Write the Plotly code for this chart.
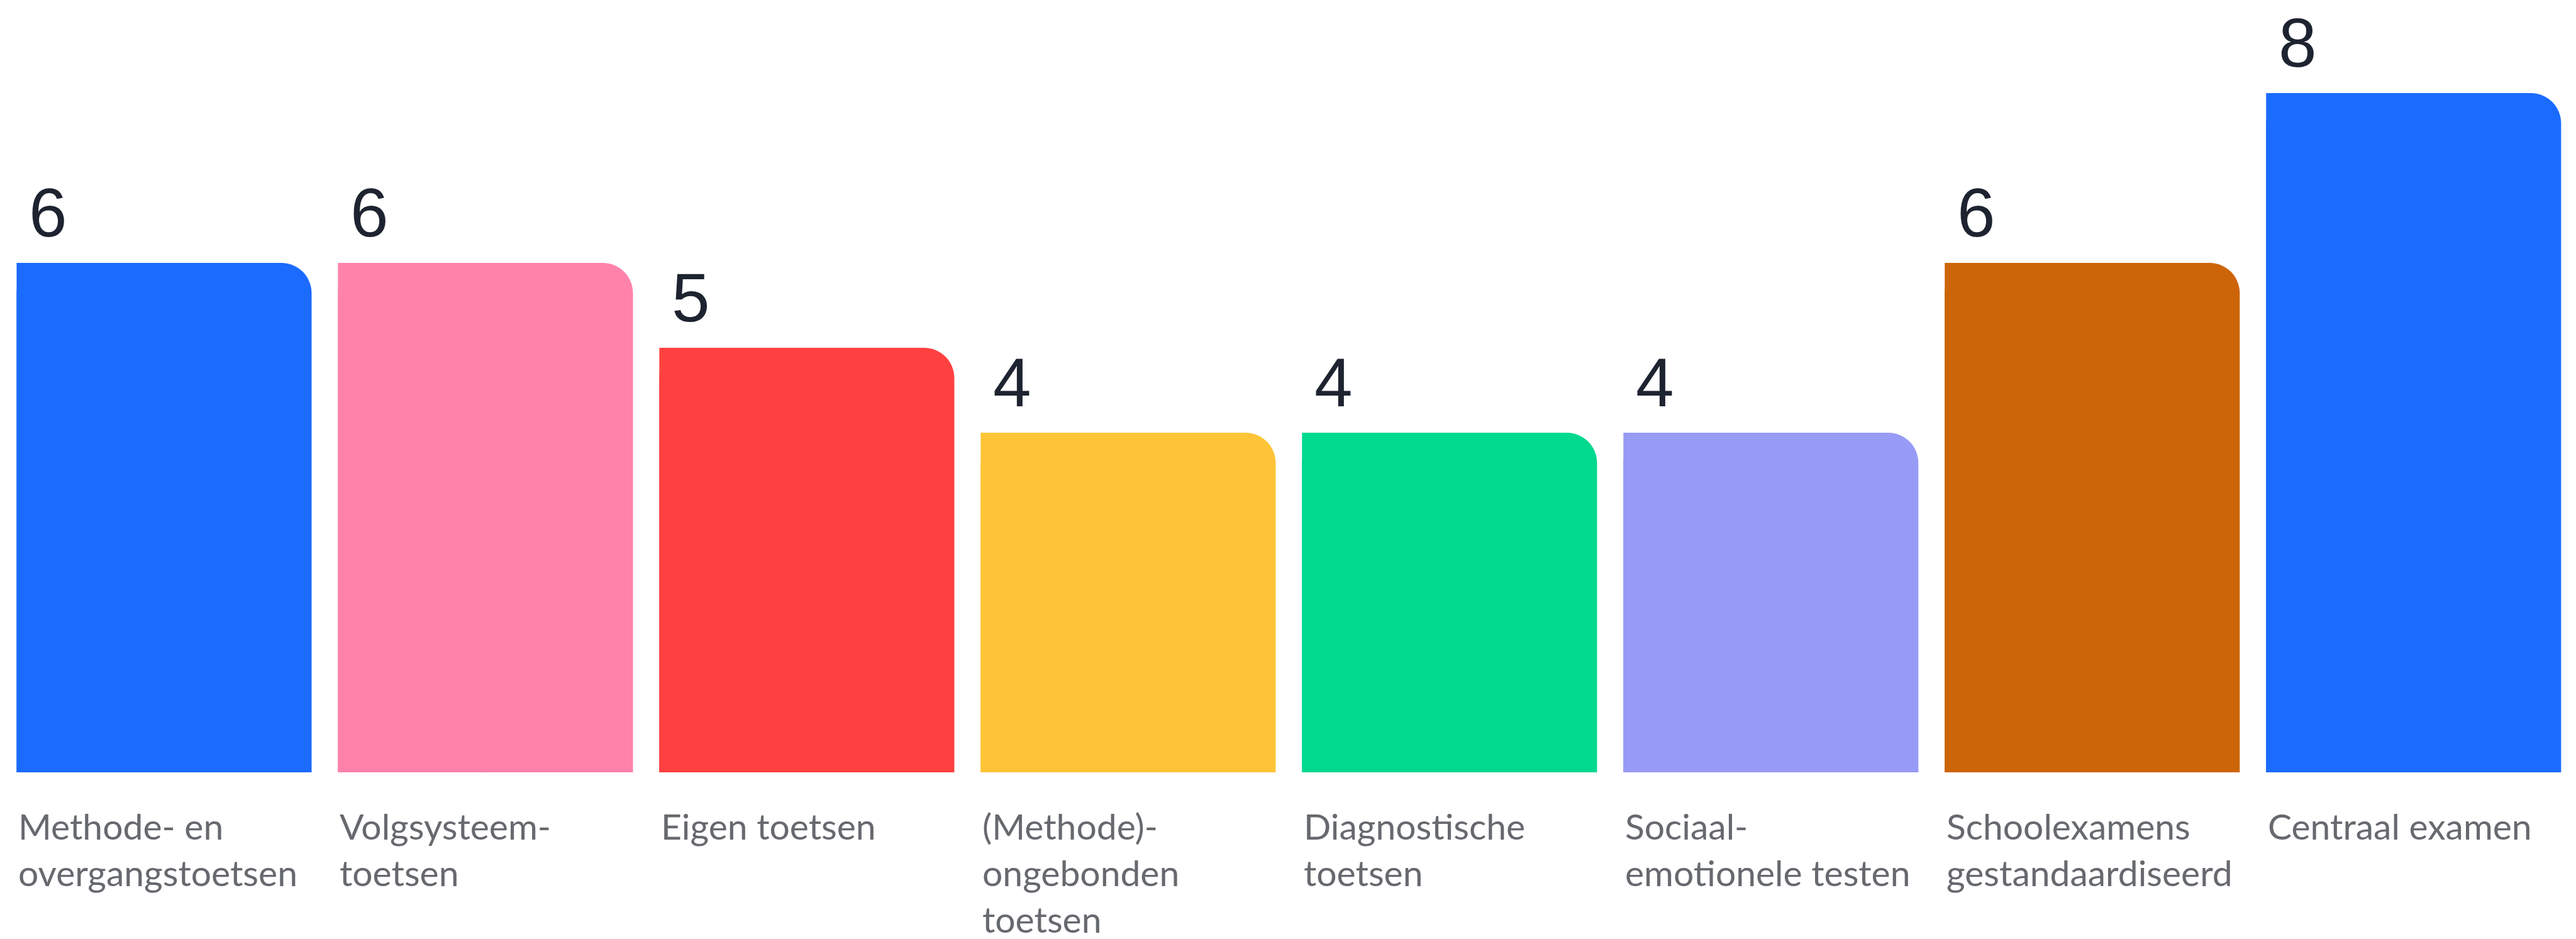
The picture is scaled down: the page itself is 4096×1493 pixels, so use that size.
import plotly.graph_objects as go

categories = ["Methode- en overgangstoetsen", "Volgsysteem-toetsen", "Eigen toetsen",
              "(Methode)-ongebonden toetsen", "Diagnostische toetsen",
              "Sociaal-emotionele testen", "Schoolexamens gestandaardiseerd", "Centraal examen"]
label_lines = ["Methode- en<br>overgangstoetsen", "Volgsysteem-<br>toetsen", "Eigen toetsen",
               "(Methode)-<br>ongebonden<br>toetsen", "Diagnostische<br>toetsen",
               "Sociaal-<br>emotionele testen", "Schoolexamens<br>gestandaardiseerd", "Centraal examen"]
values = [6, 6, 5, 4, 4, 4, 6, 8]
colors = ["#1B6BFF", "#FF82AA", "#FF4040", "#FDC437", "#00D98E", "#979BF5", "#CC650A", "#1B6BFF"]

W, H = 4096, 1493
half = 0.459
xs = list(range(len(categories)))

fig = go.Figure()
# rounded (top-right) full bar
fig.add_trace(go.Bar(x=xs, y=values, width=[2 * half] * len(xs), offset=-half,
                     marker=dict(color=colors, cornerradius=48, line=dict(width=0)),
                     hoverinfo="skip", showlegend=False))
# square left half to keep the top-left corner sharp
fig.add_trace(go.Bar(x=xs, y=values, width=[half] * len(xs), offset=-half,
                     marker=dict(color=colors, line=dict(width=0)),
                     hoverinfo="skip", showlegend=False))

annotations = []
for i, (v, lab) in enumerate(zip(values, label_lines)):
    annotations.append(dict(x=i, y=v, xref="x", yref="y", text=str(v), showarrow=False,
                            xanchor="left", yanchor="bottom", xshift=-217, yshift=17,
                            font=dict(family="Liberation Sans, Arial, sans-serif", size=109, color="#1E2330")))
    annotations.append(dict(x=i, y=0.150, xref="x", yref="paper", text=lab, showarrow=False,
                            xanchor="left", yanchor="top", align="left", xshift=-234,
                            font=dict(family="Lato, sans-serif", size=57, color="#66696E")))

fig.update_layout(
    width=W, height=H, barmode="overlay",
    margin=dict(l=0, r=0, t=0, b=0),
    paper_bgcolor="white", plot_bgcolor="white",
    xaxis=dict(range=[-0.495, 7.521], visible=False, fixedrange=True),
    yaxis=dict(range=[-2.022, 9.037], visible=False, fixedrange=True),
    annotations=annotations,
    showlegend=False,
)
fig.write_html("out.html", config={"displayModeBar": False})
